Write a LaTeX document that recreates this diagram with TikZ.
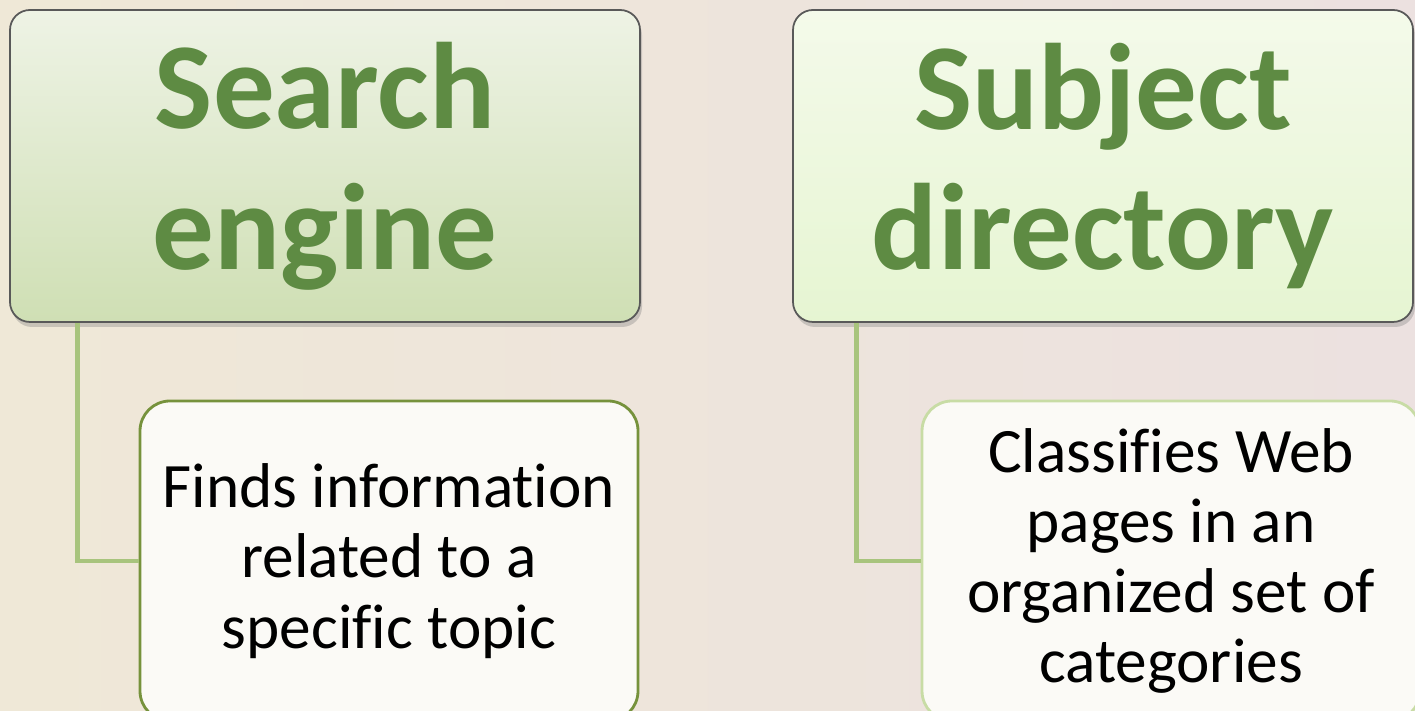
\documentclass[tikz,border=0pt]{standalone}
\usepackage{fontspec}
\setmainfont{Carlito}[Ligatures=NoCommon]
\usetikzlibrary{shadows}
\definecolor{bgleft}{RGB}{239,232,215}
\definecolor{bgright}{RGB}{236,225,224}
\definecolor{ttl}{RGB}{94,139,67}
\definecolor{lnk}{RGB}{168,196,125}
\definecolor{darkedge}{RGB}{118,146,60}
\definecolor{lightedge}{RGB}{200,220,165}
\definecolor{paper}{RGB}{251,250,246}
\newcommand{\ttlfont}{\fontsize{35}{40}\selectfont\bfseries}
\newcommand{\txtfont}{\fontsize{18}{20}\selectfont}
\tikzset{
  headbox/.style={draw=gray!70!black, line width=0.5pt, rounded corners=0.2cm,
    align=center, text=ttl, font=\ttlfont,
    drop shadow={opacity=0.35, shadow xshift=0.02cm, shadow yshift=-0.05cm}},
  infobox/.style={fill=paper, line width=0.8pt, rounded corners=0.3cm,
    align=center, font=\txtfont, minimum width=4.98cm, minimum height=3.2cm},
  link/.style={draw=lnk, line width=1.4pt}
}
\begin{document}
\begin{tikzpicture}
      \clip (0,0) rectangle (14.15,7.11);
      \fill[left color=bgleft, right color=bgright] (0,0) rectangle (14.15,7.11);
      \begin{scope}
        \node[headbox, top color={rgb,255:red,238;green,243;blue,229},
          bottom color={rgb,255:red,207;green,223;blue,180},
          minimum width=6.3cm, minimum height=3.12cm] (se) at (3.25,5.45) {Search\\engine};
        \node[infobox, draw=darkedge] (sefind) at (3.89,1.5)
          {Finds information\\related to a\\specific topic};
        \draw[link] ([xshift=0.68cm]se.south west) |- (sefind.west);
      \end{scope}
      \begin{scope}
        \node[headbox, top color={rgb,255:red,244;green,250;blue,234},
          bottom color={rgb,255:red,230;green,245;blue,210},
          minimum width=6.2cm, minimum height=3.12cm] (sd) at (11.03,5.45) {Subject\\directory};
        \node[infobox, draw=lightedge] (sdclass) at (11.71,1.5)
          {Classifies Web\\pages in an\\organized set of\\categories};
        \draw[link] ([xshift=0.64cm]sd.south west) |- (sdclass.west);
      \end{scope}
    \end{tikzpicture}
\end{document}
